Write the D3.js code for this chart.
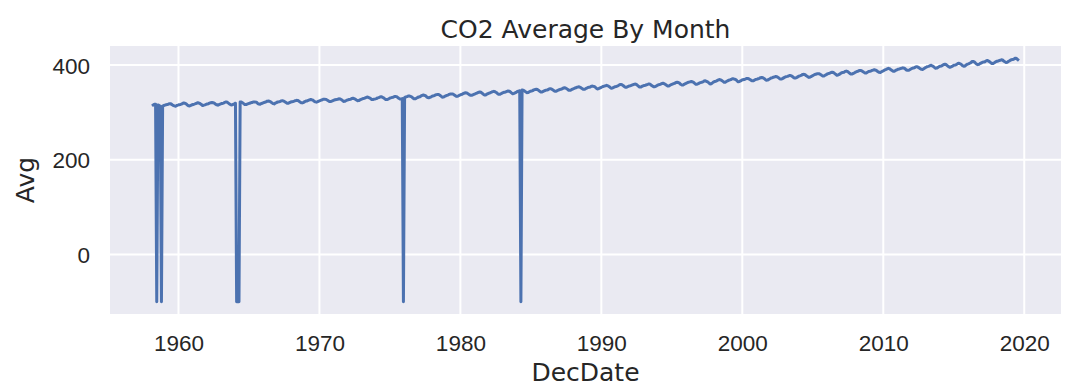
<!DOCTYPE html>
<html>
<head>
<meta charset="utf-8">
<script src="https://cdn.jsdelivr.net/npm/d3@7"></script>
<style>
  body { margin: 0; background: #fff; }
  svg { display: block; font-family: "DejaVu Sans", sans-serif; }
</style>
</head>
<body>
<div class="chart"></div>
<script>
const title = 'CO2 Average By Month';
const xLabel = 'DecDate';
const yLabel = 'Avg';
const xTicks = [1960, 1970, 1980, 1990, 2000, 2010, 2020];
const yTicks = [0, 200, 400];

// monthly averages, first value is March 1958, -99.99 = missing
const firstYear = 1958;
const firstMonth = 3;
const avg1950s = [
  315.71, 317.45, 317.50, -99.99, 315.86, 314.93, 313.20, -99.99, 313.33, 314.67,
  315.62, 316.38, 316.71, 317.72, 318.29, 318.15, 316.54, 314.80, 313.84, 313.26, 314.80, 315.58
];
const avg1960s = [
  316.43, 316.97, 317.58, 319.02, 320.03, 319.59, 318.18, 315.91, 314.16, 313.83, 315.00, 316.19,
  316.93, 317.70, 318.54, 319.48, 320.58, 319.77, 318.57, 316.79, 314.80, 315.38, 316.10, 317.01,
  317.94, 318.56, 319.68, 320.63, 321.01, 320.55, 319.58, 317.40, 316.26, 315.42, 316.69, 317.69,
  318.74, 319.08, 319.86, 321.39, 322.25, 321.47, 319.74, 317.77, 316.21, 315.99, 317.12, 318.31,
  319.57, -99.99, -99.99, -99.99, 322.25, 321.89, 320.44, 318.70, 316.70, 316.79, 317.79, 318.71,
  319.44, 320.44, 320.89, 322.13, 322.16, 321.87, 321.39, 318.81, 317.81, 317.30, 318.87, 319.42,
  320.62, 321.59, 322.39, 323.87, 324.01, 323.75, 322.39, 320.37, 318.64, 318.10, 319.79, 321.08,
  322.07, 322.50, 323.04, 324.42, 325.00, 324.09, 322.55, 320.92, 319.31, 319.31, 320.72, 321.96,
  322.57, 323.15, 323.89, 325.02, 325.57, 325.36, 324.14, 322.03, 320.41, 320.25, 321.31, 322.84,
  324.00, 324.42, 325.64, 326.66, 327.34, 326.76, 325.88, 323.67, 322.38, 321.78, 322.85, 324.12
];
const avg1970s = [
  325.03, 325.99, 326.87, 328.13, 328.07, 327.66, 326.35, 324.69, 323.10, 323.16, 323.98, 325.13,
  326.17, 326.68, 327.18, 327.78, 328.92, 328.57, 327.34, 325.46, 323.36, 323.57, 324.80, 326.01,
  326.77, 327.63, 327.75, 329.72, 330.07, 329.09, 328.05, 326.32, 324.93, 325.06, 326.50, 327.55,
  328.54, 329.56, 330.30, 331.50, 332.48, 332.07, 330.87, 329.31, 327.51, 327.18, 328.16, 328.64,
  329.35, 330.71, 331.48, 332.65, 333.20, 332.16, 331.07, 329.12, 327.32, 327.28, 328.30, 329.58,
  330.73, 331.46, 331.90, 333.17, 333.94, 333.45, 331.98, 329.95, 328.50, 328.34, 329.37, -99.99,
  331.59, 332.75, 333.52, 334.64, 334.77, 334.00, 333.06, 330.68, 328.95, 328.75, 330.15, 331.62,
  332.66, 333.13, 334.95, 336.13, 336.93, 336.17, 334.88, 332.56, 331.29, 331.27, 332.41, 333.60,
  334.95, 335.25, 336.66, 337.69, 338.03, 338.01, 336.41, 334.41, 332.37, 332.41, 333.75, 334.90,
  336.14, 336.69, 338.27, 338.96, 339.21, 339.26, 337.54, 335.75, 333.98, 334.19, 335.31, 336.81
];
const avg1980s = [
  337.90, 338.34, 340.01, 340.93, 341.48, 341.33, 339.40, 337.70, 336.19, 336.15, 337.27, 338.32,
  339.29, 340.55, 341.62, 342.53, 343.03, 342.54, 340.78, 338.44, 336.95, 337.08, 338.58, 339.88,
  340.96, 341.73, 342.81, 343.97, 344.63, 343.79, 342.32, 340.09, 338.28, 338.29, 339.60, 340.90,
  342.13, 342.66, 343.21, 344.62, 345.25, 345.02, 343.55, 341.43, 339.67, 340.04, 341.33, 342.51,
  344.40, 345.19, 345.95, -99.99, 347.63, 346.98, 345.52, 343.61, 341.86, 342.03, 343.36, 344.85,
  345.21, 346.16, 347.74, 348.34, 349.06, 348.38, 346.72, 345.02, 343.27, 343.13, 344.49, 345.88,
  346.83, 347.19, 348.06, 349.63, 350.28, 349.72, 348.11, 346.11, 344.71, 344.83, 346.18, 347.46,
  348.44, 348.92, 349.81, 351.40, 352.15, 351.58, 350.21, 348.20, 346.66, 346.72, 348.08, 349.28,
  350.38, 351.61, 352.22, 353.53, 354.14, 353.62, 352.53, 350.41, 348.84, 348.94, 350.04, 351.29,
  352.76, 353.07, 353.68, 355.42, 355.67, 355.12, 353.90, 351.67, 349.80, 349.99, 351.30, 352.53
];
const avg1990s = [
  353.79, 354.89, 355.65, 356.27, 357.29, 356.32, 354.88, 352.89, 351.28, 351.60, 353.05, 354.29,
  354.87, 355.66, 357.01, 358.48, 359.28, 358.46, 356.90, 354.89, 353.21, 353.18, 354.67, 355.71,
  356.20, 357.16, 358.10, 359.39, 359.92, 359.56, 357.84, 355.75, 353.74, 353.67, 354.97, 356.30,
  357.10, 357.42, 358.59, 359.39, 360.30, 359.64, 357.45, 355.76, 354.14, 354.23, 355.53, 357.03,
  358.22, 358.98, 359.91, 361.32, 361.68, 360.80, 359.38, 357.46, 355.73, 356.07, 357.53, 358.98,
  359.96, 361.00, 361.64, 363.45, 363.79, 363.26, 361.90, 359.46, 358.06, 357.75, 359.56, 360.70,
  362.05, 363.25, 364.03, 364.72, 365.41, 364.97, 363.65, 361.49, 359.46, 359.60, 360.76, 362.33,
  363.18, 364.00, 364.57, 366.35, 366.79, 365.62, 364.47, 362.51, 360.19, 360.77, 362.43, 364.28,
  365.45, 365.90, 367.25, 368.66, 369.54, 368.88, 367.48, 365.71, 363.95, 364.02, 365.46, 366.89,
  368.15, 368.87, 369.59, 371.14, 370.96, 370.30, 369.45, 366.90, 364.81, 365.37, 366.72, 368.10
];
const avg2000s = [
  369.25, 369.50, 370.51, 371.78, 371.75, 371.08, 369.71, 367.94, 366.76, 366.84, 368.53, 369.83,
  370.33, 371.23, 372.14, 373.44, 373.99, 373.40, 371.82, 369.67, 368.13, 368.39, 369.76, 371.25,
  372.79, 373.42, 374.30, 375.19, 375.92, 375.63, 373.98, 371.75, 370.48, 370.61, 372.03, 373.61,
  374.87, 375.63, 376.23, 377.35, 378.25, 377.78, 376.20, 373.93, 372.73, 372.84, 374.16, 375.68,
  377.03, 377.87, 378.88, 380.42, 380.62, 379.66, 377.49, 375.98, 374.11, 374.53, 375.88, 377.11,
  378.60, 379.71, 380.78, 381.64, 382.00, 382.01, 380.38, 378.54, 376.94, 377.06, 378.48, 379.89,
  381.58, 382.35, 383.07, 384.39, 385.04, 384.36, 382.51, 380.57, 378.75, 379.14, 380.56, 382.01,
  383.89, 384.37, 384.69, 386.72, 387.34, 386.60, 384.49, 382.43, 381.15, 381.20, 382.64, 383.64,
  385.37, 386.54, 387.16, 388.46, 388.82, 388.12, 386.51, 384.87, 383.36, 383.46, 385.07, 386.50,
  386.94, 387.48, 388.82, 389.55, 390.14, 389.48, 388.03, 386.11, 384.74, 384.43, 386.02, 387.42
];
const avg2010s = [
  388.45, 390.07, 391.01, 392.38, 393.22, 392.24, 390.33, 388.52, 386.84, 387.24, 388.67, 389.79,
  391.33, 391.86, 392.60, 393.25, 394.19, 393.74, 392.51, 390.13, 389.08, 389.00, 390.28, 391.86,
  393.12, 393.86, 394.40, 396.18, 396.78, 395.78, 394.20, 392.38, 391.14, 391.00, 392.36, 394.21,
  395.55, 396.80, 397.43, 398.41, 399.78, 398.61, 397.32, 395.20, 393.45, 393.70, 395.16, 396.84,
  397.85, 398.01, 399.77, 401.38, 401.78, 401.25, 399.10, 397.03, 395.38, 396.03, 397.28, 398.91,
  399.98, 400.28, 401.54, 403.28, 403.96, 402.80, 401.31, 398.93, 397.63, 398.29, 400.16, 401.85,
  402.56, 404.12, 404.87, 407.45, 407.72, 406.83, 404.41, 402.27, 401.05, 401.59, 403.55, 404.45,
  406.17, 406.46, 407.22, 409.04, 409.69, 408.88, 407.12, 405.13, 403.37, 403.63, 405.12, 406.81,
  407.96, 408.32, 409.41, 410.24, 411.24, 410.79, 408.71, 406.99, 405.51, 405.95, 408.02, 409.07,
  410.83, 411.75, 411.97, 413.32, 414.66, 413.92, 411.77
];

const avg = [].concat(avg1950s, avg1960s, avg1970s, avg1980s, avg1990s, avg2000s, avg2010s);
// decimal date of each month's midpoint
const data = avg.map((v, i) => ({
  date: firstYear + (firstMonth - 1 + i + 0.5) / 12,
  avg: v
}));

const drawLineChart = (selector, outerWidth, outerHeight) => {
  const margin = {top: 46, right: 17, bottom: 74, left: 110};
  const width = outerWidth - margin.left - margin.right;
  const height = outerHeight - margin.top - margin.bottom;
  const textColor = '#262626';

  const root = d3.select(selector).append('svg')
    .attr('width', outerWidth)
    .attr('height', outerHeight);
  const svg = root.append('g')
    .attr('transform', 'translate(' + margin.left + ',' + margin.top + ')');

  // matplotlib style 5% padding around the data
  const pad = (ext) => {
    const d = (ext[1] - ext[0]) * 0.05;
    return [ext[0] - d, ext[1] + d];
  };
  const x = d3.scaleLinear()
    .domain(pad(d3.extent(data, d => d.date)))
    .range([0, width]);
  const y = d3.scaleLinear()
    .domain(pad(d3.extent(data, d => d.avg)))
    .range([height, 0]);

  svg.append('rect')
    .attr('width', width)
    .attr('height', height)
    .attr('fill', '#EAEAF2');

  // grid
  svg.append('g').selectAll('line').data(xTicks).join('line')
    .attr('x1', d => x(d)).attr('x2', d => x(d))
    .attr('y1', 0).attr('y2', height)
    .attr('stroke', '#fff').attr('stroke-width', 2);
  svg.append('g').selectAll('line').data(yTicks).join('line')
    .attr('x1', 0).attr('x2', width)
    .attr('y1', d => y(d)).attr('y2', d => y(d))
    .attr('stroke', '#fff').attr('stroke-width', 2);

  // axes
  const xAxis = svg.append('g')
    .attr('transform', 'translate(0,' + height + ')')
    .call(d3.axisBottom(x).tickValues(xTicks).tickFormat(d3.format('d')).tickSize(0));
  xAxis.select('.domain').remove();
  xAxis.selectAll('text')
    .attr('y', 37).attr('dy', null)
    .attr('fill', textColor)
    .style('font-size', '22.5px');

  const yAxis = svg.append('g')
    .call(d3.axisLeft(y).tickValues(yTicks).tickFormat(d3.format('d')).tickSize(0));
  yAxis.select('.domain').remove();
  yAxis.selectAll('text')
    .attr('x', -20).attr('dy', '0.36em')
    .attr('fill', textColor)
    .style('font-size', '22.5px');

  // the line
  svg.append('path')
    .datum(data)
    .attr('fill', 'none')
    .attr('stroke', '#4C72B0')
    .attr('stroke-width', 3)
    .attr('stroke-linejoin', 'round')
    .attr('stroke-linecap', 'square')
    .attr('d', d3.line()
      .x(d => x(d.date))
      .y(d => y(d.avg)));

  // labels
  root.append('text')
    .attr('x', margin.left + width / 2)
    .attr('y', 38)
    .attr('text-anchor', 'middle')
    .attr('fill', textColor)
    .style('font-size', '25px')
    .text(title);
  root.append('text')
    .attr('x', margin.left + width / 2)
    .attr('y', 380.5)
    .attr('text-anchor', 'middle')
    .attr('fill', textColor)
    .style('font-size', '25px')
    .text(xLabel);
  root.append('text')
    .attr('transform', 'translate(34,' + (margin.top + height / 2) + ') rotate(-90)')
    .attr('text-anchor', 'middle')
    .attr('fill', textColor)
    .style('font-size', '25px')
    .text(yLabel);
};

drawLineChart('.chart', 1078, 388);
</script>
</body>
</html>
